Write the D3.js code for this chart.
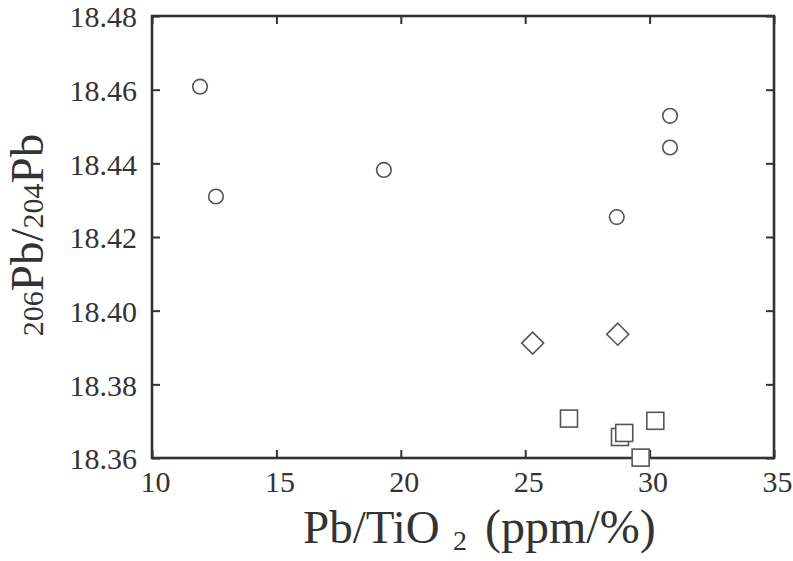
<!DOCTYPE html>
<html>
<head>
<meta charset="utf-8">
<script src="https://cdn.jsdelivr.net/npm/d3@7"></script>
<style>
  html, body { margin: 0; padding: 0; background: #ffffff; }
  svg { display: block; }
  text { font-family: "Liberation Serif", "Times New Roman", serif; fill: #333; }
</style>
</head>
<body>
<svg id="chart" width="793" height="561"></svg>
<script>
// ---- data ----
const circleX = [11.93, 12.57, 19.32, 30.82, 30.82, 28.68];
const circleY = [18.4608, 18.4310, 18.4382, 18.4529, 18.4443, 18.4254];
const diamondX = [25.30, 28.72];
const diamondY = [18.3912, 18.3936];
const squareX = [26.76, 30.23, 28.81, 28.98, 29.64];
const squareY = [18.3707, 18.3701, 18.3657, 18.3668, 18.3601];
const xTicks = [10, 15, 20, 25, 30, 35];
const yTicks = [18.36, 18.38, 18.40, 18.42, 18.44, 18.46, 18.48];

// ---- layout ----
const L = 152, R = 774, T = 16, B = 458;
const FONT = "Liberation Serif";
const svg = d3.select("#chart");
const x = d3.scaleLinear().domain([10, 35]).range([L, R]);
const y = d3.scaleLinear().domain([18.36, 18.48]).range([B, T]);
const ink = "#333";
const mark = "#555";
const tickLen = 8;

// axes with inward ticks
const gB = svg.append("g").attr("transform", `translate(0,${B})`)
  .call(d3.axisBottom(x).tickValues(xTicks).tickSize(-tickLen).tickPadding(13).tickFormat(d3.format("d")));
const gT = svg.append("g").attr("transform", `translate(0,${T})`)
  .call(d3.axisTop(x).tickValues(xTicks).tickSize(-tickLen).tickFormat(""));
const gL = svg.append("g").attr("transform", `translate(${L},0)`)
  .call(d3.axisLeft(y).tickValues(yTicks).tickSize(-tickLen).tickPadding(15).tickFormat(d3.format(".2f")));
const gR = svg.append("g").attr("transform", `translate(${R},0)`)
  .call(d3.axisRight(y).tickValues(yTicks).tickSize(-tickLen).tickFormat(""));

[gB, gT, gL, gR].forEach(g => {
  g.attr("font-family", FONT).attr("font-size", 30);
  g.select(".domain").remove();
  g.selectAll(".tick line").attr("stroke", ink).attr("stroke-width", 2);
  g.selectAll(".tick text").attr("fill", ink).attr("font-family", FONT).attr("font-size", 30)
    .style("font-family", FONT).style("font-size", "30px");
});
gB.selectAll(".tick text").attr("dx", 3);
gL.selectAll(".tick text").attr("dy", "0.36em");

// frame
svg.append("rect").attr("x", L).attr("y", T).attr("width", R - L).attr("height", B - T)
  .attr("fill", "none").attr("stroke", ink).attr("stroke-width", 2.6);

// markers
svg.append("g").selectAll("circle").data(circleX.map((v, i) => [v, circleY[i]])).join("circle")
  .attr("cx", d => x(d[0])).attr("cy", d => y(d[1])).attr("r", 7.3)
  .attr("fill", "#fff").attr("stroke", mark).attr("stroke-width", 1.6);

const dSize = 11;
svg.append("g").selectAll("path").data(diamondX.map((v, i) => [v, diamondY[i]])).join("path")
  .attr("d", d => {
    const cx = x(d[0]), cy = y(d[1]);
    return `M${cx},${cy - dSize}L${cx + dSize},${cy}L${cx},${cy + dSize}L${cx - dSize},${cy}Z`;
  })
  .attr("fill", "#fff").attr("stroke", mark).attr("stroke-width", 1.6);

const sSide = 17;
svg.append("g").selectAll("rect").data(squareX.map((v, i) => [v, squareY[i]])).join("rect")
  .attr("x", d => x(d[0]) - sSide / 2).attr("y", d => y(d[1]) - sSide / 2)
  .attr("width", sSide).attr("height", sSide)
  .attr("fill", "#fff").attr("stroke", mark).attr("stroke-width", 1.6);

// x title
const titleG = svg.append("g").attr("font-family", FONT).attr("fill", ink);
titleG.append("text").attr("x", 303).attr("y", 543).style("font-size", "47px").text("Pb/TiO");
titleG.append("text").attr("x", 453).attr("y", 550).style("font-size", "28px").text("2");
titleG.append("text").attr("x", 485).attr("y", 543).style("font-size", "48px").text("(ppm/%)");

// y title
const yt = svg.append("text").attr("transform", `translate(43,${(T + B) / 2 - 2}) rotate(-90)`)
  .attr("text-anchor", "middle").style("font-size", "47px").attr("fill", ink);
yt.append("tspan").text("206").style("font-size", "30px");
yt.append("tspan").text("Pb/");
yt.append("tspan").text("204").style("font-size", "30px");
yt.append("tspan").text("Pb");
</script>
</body>
</html>
